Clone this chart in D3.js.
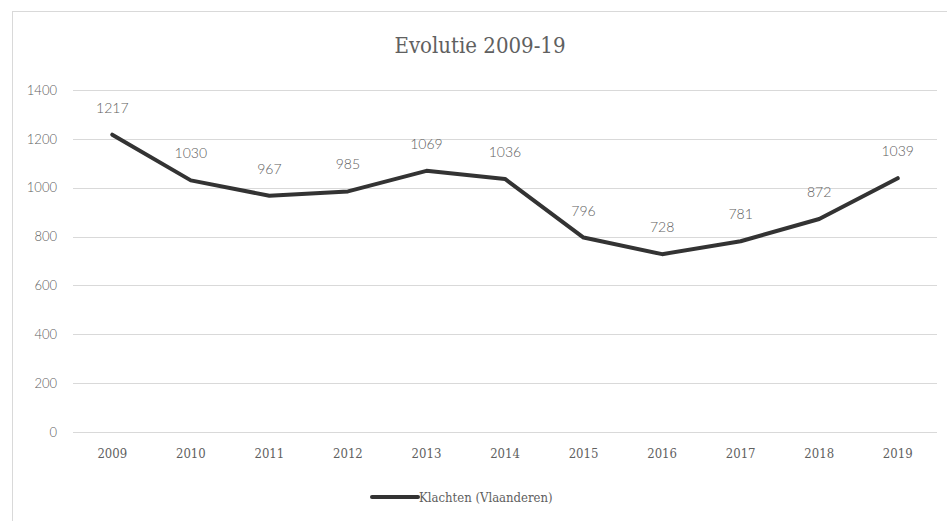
<!DOCTYPE html>
<html>
<head>
<meta charset="utf-8">
<script src="https://cdn.jsdelivr.net/npm/d3@7"></script>
<style>
  body { margin: 0; background: #fff; }
  svg { display: block; }
  .slab { font-family: "DejaVu Serif", serif; font-stretch: condensed; }
</style>
</head>
<body>
<svg width="947" height="521"></svg>
<script>
const years = ["2009", "2010", "2011", "2012", "2013", "2014", "2015", "2016", "2017", "2018", "2019"];
const klachten = [1217, 1030, 967, 985, 1069, 1036, 796, 728, 781, 872, 1039];
const yTicks = [0, 200, 400, 600, 800, 1000, 1200, 1400];

const svg = d3.select("svg");
const textColor = "#606060";

// chart frame
svg.append("rect")
    .attr("x", 12.5).attr("y", 11.5)
    .attr("width", 945).attr("height", 520)
    .attr("fill", "none")
    .attr("stroke", "#d9d9d9");

const x = d3.scaleBand()
    .domain(years)
    .range([73, 937]);

const y = d3.scaleLinear()
    .domain([0, 1400])
    .range([432, 90]);

// gridlines
svg.append("g")
    .selectAll("line")
    .data(yTicks)
    .enter().append("line")
    .attr("x1", 73).attr("x2", 937)
    .attr("y1", d => Math.round(y(d)) + 0.5)
    .attr("y2", d => Math.round(y(d)) + 0.5)
    .attr("stroke", "#d9d9d9")
    .attr("stroke-width", 1);

// y axis labels
const yAxis = d3.axisLeft(y).tickValues(yTicks).tickFormat(d3.format("d")).tickSize(0).tickPadding(0);
const yg = svg.append("g")
    .attr("transform", "translate(57,0)")
    .call(yAxis);
yg.select(".domain").remove();
yg.selectAll("text")
    .attr("fill", textColor)
    .style("font-family", "Lato, sans-serif")
    .style("font-weight", 300)
    .style("font-size", "13px");

// x axis labels
const xAxis = d3.axisBottom(x).tickSize(0).tickPadding(0);
const xg = svg.append("g")
    .attr("transform", "translate(0,449)")
    .call(xAxis);
xg.select(".domain").remove();
xg.selectAll("text")
    .attr("class", "slab")
    .attr("fill", textColor)
    .style("font-size", "13px");

// title
svg.append("text")
    .attr("class", "slab")
    .attr("x", 480).attr("y", 53)
    .attr("text-anchor", "middle")
    .attr("fill", textColor)
    .style("font-size", "22px")
    .text("Evolutie 2009-19");

// line
const line = d3.line()
    .x((d, i) => x(years[i]) + x.bandwidth() / 2)
    .y(d => y(d));

svg.append("path")
    .datum(klachten)
    .attr("d", line)
    .attr("fill", "none")
    .attr("stroke", "#333333")
    .attr("stroke-width", 4)
    .attr("stroke-linejoin", "round")
    .attr("stroke-linecap", "round");

// data labels
svg.append("g")
    .selectAll("text")
    .data(klachten)
    .enter().append("text")
    .attr("x", (d, i) => x(years[i]) + x.bandwidth() / 2)
    .attr("y", d => y(d) - 22)
    .attr("text-anchor", "middle")
    .attr("fill", textColor)
    .style("font-family", "Lato, sans-serif")
    .style("font-weight", 300)
    .style("font-size", "14px")
    .text(d => d);

// legend
const legend = svg.append("g").attr("transform", "translate(372,497)");
legend.append("line")
    .attr("x1", 0).attr("x2", 46)
    .attr("stroke", "#333333")
    .attr("stroke-width", 4)
    .attr("stroke-linecap", "round");
legend.append("text")
    .attr("class", "slab")
    .attr("x", 47).attr("y", 5)
    .attr("fill", textColor)
    .style("font-size", "13px")
    .text("Klachten (Vlaanderen)");
</script>
</body>
</html>
